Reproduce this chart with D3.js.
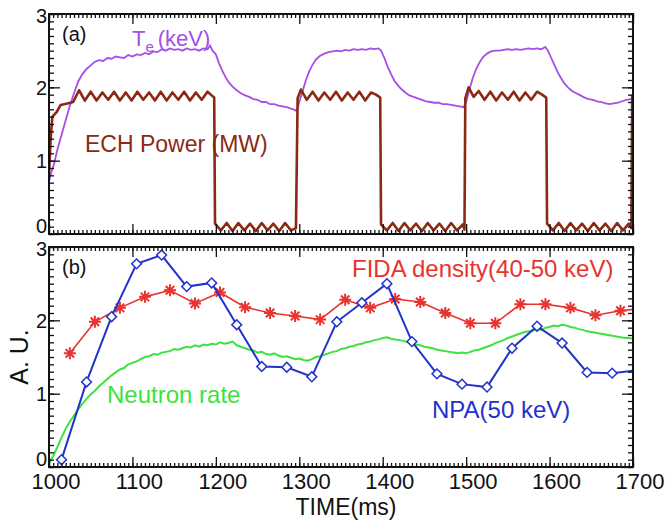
<!DOCTYPE html>
<html>
<head>
<meta charset="utf-8">
<script src="https://cdn.jsdelivr.net/npm/d3@7"></script>
<style>
  body { margin: 0; background: #fff; }
  svg text { font-family: "Liberation Sans", Arial, Helvetica, sans-serif; }
</style>
</head>
<body>
<div id="chart"></div>
<script>

// ---- data ----
var timeTicks = [1000, 1100, 1200, 1300, 1400, 1500, 1600, 1700];
var valueTicks = [0, 1, 2, 3];

// ECH power (MW), [time ms, value]
var echPower = [
  [1000,0.80],[1002,1.30],[1004,1.60],[1009,1.66],[1014,1.76],[1022,1.78],[1029,1.80],[1036,1.96],
  [1043,1.82],[1050,1.94],[1057,1.82],[1064,1.93],[1071,1.83],[1078,1.94],[1085,1.82],[1092,1.93],
  [1099,1.82],[1106,1.94],[1113,1.83],[1120,1.93],[1127,1.82],[1134,1.94],[1141,1.82],[1148,1.93],
  [1155,1.83],[1162,1.94],[1169,1.82],[1176,1.93],[1183,1.83],[1190,1.94],[1196,1.88],[1198,1.86],
  [1199,0.14],[1206,0.05],[1213,0.15],[1220,0.04],[1227,0.15],[1234,0.05],[1241,0.14],[1248,0.04],
  [1255,0.15],[1262,0.05],[1269,0.14],[1276,0.04],[1283,0.15],[1290,0.05],[1296,0.08],
  [1298,1.85],[1302,1.97],[1309,1.83],[1316,1.94],[1323,1.82],[1330,1.93],[1337,1.83],[1344,1.94],
  [1351,1.82],[1358,1.93],[1365,1.83],[1372,1.94],[1379,1.82],[1386,1.93],[1392,1.90],[1397,1.86],
  [1398,0.13],[1405,0.05],[1412,0.15],[1419,0.04],[1426,0.15],[1433,0.05],[1440,0.14],[1447,0.04],
  [1454,0.15],[1461,0.05],[1468,0.14],[1475,0.04],[1482,0.15],[1489,0.05],[1496,0.13],[1498,0.06],
  [1499,1.85],[1503,2.00],[1509,1.87],[1515,1.95],[1522,1.83],[1529,1.94],[1536,1.82],[1543,1.93],
  [1550,1.83],[1557,1.94],[1564,1.82],[1571,1.93],[1578,1.83],[1585,1.94],[1591,1.90],[1596,1.86],
  [1597,0.14],[1604,0.05],[1611,0.15],[1618,0.04],[1625,0.15],[1632,0.05],[1639,0.14],[1646,0.04],
  [1653,0.15],[1660,0.05],[1667,0.14],[1674,0.04],[1681,0.15],[1688,0.05],[1695,0.14],[1698,0.08],
  [1699,1.88],[1700,1.90]
];

// electron temperature (keV)
var teKeV = [
  [1000,0.72],[1003,0.85],[1006,0.95],[1010,1.15],[1015,1.35],[1020,1.55],[1025,1.75],[1030,1.92],
  [1035,2.08],[1040,2.18],[1045,2.25],[1050,2.30],[1055,2.35],[1060,2.37],[1065,2.36],[1070,2.40],
  [1075,2.39],[1080,2.42],[1085,2.41],[1090,2.40],[1095,2.44],[1100,2.42],[1105,2.45],[1110,2.44],
  [1115,2.47],[1120,2.45],[1125,2.49],[1130,2.48],[1135,2.52],[1140,2.50],[1145,2.53],[1150,2.51],
  [1155,2.52],[1160,2.50],[1165,2.53],[1170,2.51],[1175,2.52],[1180,2.50],[1185,2.53],[1190,2.52],
  [1193,2.57],[1196,2.50],[1200,2.45],[1204,2.32],[1208,2.22],[1212,2.13],[1216,2.06],[1220,2.01],
  [1225,1.96],[1230,1.92],[1235,1.89],[1240,1.87],[1245,1.84],[1250,1.83],[1255,1.80],[1260,1.80],
  [1265,1.77],[1270,1.77],[1275,1.75],[1280,1.74],[1285,1.73],[1290,1.71],[1295,1.69],[1297,1.67],
  [1300,1.80],[1304,1.95],[1308,2.10],[1312,2.22],[1316,2.31],[1320,2.38],[1325,2.43],[1330,2.46],
  [1335,2.48],[1340,2.49],[1345,2.50],[1350,2.49],[1355,2.51],[1360,2.50],[1365,2.52],[1370,2.51],
  [1375,2.52],[1380,2.51],[1385,2.53],[1390,2.52],[1395,2.53],[1398,2.50],[1402,2.40],[1406,2.28],
  [1410,2.18],[1414,2.09],[1418,2.03],[1422,1.98],[1427,1.93],[1432,1.89],[1437,1.87],[1442,1.85],
  [1447,1.83],[1452,1.81],[1457,1.80],[1462,1.79],[1467,1.79],[1472,1.77],[1477,1.77],[1482,1.76],
  [1487,1.75],[1492,1.74],[1497,1.73],[1500,1.80],[1504,1.97],[1508,2.13],[1512,2.25],[1516,2.34],
  [1520,2.41],[1525,2.46],[1530,2.49],[1535,2.50],[1540,2.50],[1545,2.51],[1550,2.52],[1555,2.51],
  [1560,2.52],[1565,2.51],[1570,2.52],[1575,2.53],[1580,2.52],[1585,2.53],[1590,2.52],[1595,2.55],
  [1598,2.50],[1602,2.40],[1606,2.30],[1610,2.20],[1614,2.12],[1618,2.05],[1622,2.00],[1627,1.95],
  [1632,1.92],[1637,1.89],[1642,1.86],[1647,1.84],[1652,1.83],[1657,1.81],[1662,1.80],[1667,1.78],
  [1672,1.77],[1677,1.78],[1682,1.79],[1687,1.81],[1692,1.83],[1697,1.84],[1700,1.85]
];

// neutron rate (A.U.)
var neutronRate = [
  [1000,0.05],[1005,0.15],[1010,0.27],[1015,0.40],[1020,0.52],[1025,0.62],[1030,0.70],[1035,0.79],
  [1040,0.86],[1045,0.93],[1050,0.99],[1055,1.04],[1060,1.10],[1065,1.15],[1070,1.20],[1075,1.25],
  [1080,1.29],[1085,1.33],[1090,1.35],[1095,1.40],[1100,1.42],[1105,1.44],[1110,1.47],[1115,1.50],
  [1120,1.51],[1125,1.54],[1130,1.53],[1135,1.56],[1140,1.57],[1145,1.58],[1150,1.61],[1155,1.60],
  [1160,1.62],[1165,1.64],[1170,1.63],[1175,1.66],[1180,1.64],[1185,1.67],[1190,1.66],[1195,1.68],
  [1200,1.67],[1205,1.70],[1210,1.68],[1215,1.69],[1220,1.71],[1225,1.66],[1230,1.64],[1235,1.62],
  [1240,1.60],[1245,1.59],[1250,1.56],[1255,1.57],[1260,1.54],[1265,1.53],[1270,1.55],[1275,1.52],
  [1280,1.50],[1285,1.51],[1290,1.49],[1295,1.47],[1300,1.48],[1305,1.46],[1310,1.45],[1315,1.47],
  [1320,1.50],[1325,1.51],[1330,1.53],[1335,1.55],[1340,1.57],[1345,1.58],[1350,1.61],[1355,1.62],
  [1360,1.64],[1365,1.65],[1370,1.67],[1375,1.68],[1380,1.70],[1385,1.71],[1390,1.73],[1395,1.74],
  [1400,1.76],[1405,1.77],[1410,1.75],[1415,1.74],[1420,1.73],[1425,1.72],[1430,1.70],[1435,1.68],
  [1440,1.67],[1445,1.66],[1450,1.64],[1455,1.63],[1460,1.62],[1465,1.60],[1470,1.59],[1475,1.58],
  [1480,1.57],[1485,1.56],[1490,1.55],[1495,1.56],[1500,1.55],[1505,1.57],[1510,1.59],[1515,1.60],
  [1520,1.62],[1525,1.64],[1530,1.66],[1535,1.69],[1540,1.71],[1545,1.73],[1550,1.76],[1555,1.78],
  [1560,1.80],[1565,1.82],[1570,1.84],[1575,1.85],[1580,1.86],[1585,1.88],[1590,1.87],[1595,1.90],
  [1600,1.91],[1605,1.93],[1610,1.92],[1615,1.94],[1620,1.93],[1625,1.91],[1630,1.90],[1635,1.88],
  [1640,1.87],[1645,1.85],[1650,1.84],[1655,1.83],[1660,1.82],[1665,1.81],[1670,1.80],[1675,1.79],
  [1680,1.78],[1685,1.77],[1690,1.76],[1695,1.76],[1700,1.75]
];

// NPA (50 keV), diamonds
var npaTime   = [1015,1045,1075,1105,1135,1165,1195,1225,1255,1285,1315,1345,1375,1405,1435,1465,1495,1525,1555,1585,1615,1645,1675,1705];
var npaValues = [0.10,1.16,2.05,2.77,2.89,2.46,2.51,1.94,1.37,1.36,1.23,1.98,2.24,2.50,1.71,1.27,1.13,1.09,1.62,1.92,1.69,1.29,1.28,1.32];

// FIDA density (40-50 keV), asterisks
var fidaTime   = [1025,1055,1085,1115,1145,1175,1205,1235,1265,1295,1325,1355,1385,1415,1445,1475,1505,1535,1565,1595,1625,1655,1685,1715];
var fidaValues = [1.55,1.98,2.17,2.32,2.41,2.23,2.38,2.18,2.10,2.06,2.01,2.28,2.17,2.29,2.25,2.10,1.96,1.96,2.22,2.22,2.17,2.07,2.13,2.17];

// ---- layout ----
var width = 668, height = 520;
var left = 49, right = 633;
var panelA = {top: 14, bottom: 234};
var panelB = {top: 247, bottom: 467};

var svg = d3.select("#chart").append("svg")
    .attr("width", width)
    .attr("height", height);

var x = d3.scaleLinear().domain([1000, 1700]).range([left, right]);
var yA = d3.scaleLinear().domain([0, 3]).range([panelA.bottom, panelA.top]);
var yB = d3.scaleLinear().domain([0, 3]).range([panelB.bottom, panelB.top]);

var defs = svg.append("defs");
[["clipA", panelA], ["clipB", panelB]].forEach(function(c) {
  defs.append("clipPath").attr("id", c[0])
    .append("rect")
      .attr("x", left).attr("y", c[1].top)
      .attr("width", right - left).attr("height", c[1].bottom - c[1].top);
});

// IDL style axes: ticks pointing inward on all four sides
function drawAxes(y, withXLabels) {
  var g = svg.append("g");
  var y0 = y.range()[0], y1 = y.range()[1];
  var minorX = d3.range(1000, 1701, 5);
  var minorY = d3.range(0, 31, 1).map(function(d) { return d / 10; });

  var parts = [
    [d3.axisBottom(x).tickValues(minorX).tickSize(-4), "translate(0," + y0 + ")"],
    [d3.axisBottom(x).tickValues(timeTicks).tickSize(-10), "translate(0," + y0 + ")"],
    [d3.axisTop(x).tickValues(minorX).tickSize(-4), "translate(0," + y1 + ")"],
    [d3.axisTop(x).tickValues(timeTicks).tickSize(-10), "translate(0," + y1 + ")"],
    [d3.axisLeft(y).tickValues(minorY).tickSize(-5), "translate(" + left + ",0)"],
    [d3.axisLeft(y).tickValues(valueTicks).tickSize(-11), "translate(" + left + ",0)"],
    [d3.axisRight(y).tickValues(minorY).tickSize(-5), "translate(" + right + ",0)"],
    [d3.axisRight(y).tickValues(valueTicks).tickSize(-11), "translate(" + right + ",0)"]
  ];
  parts.forEach(function(p) {
    var a = g.append("g").attr("transform", p[1])
      .call(p[0].tickFormat("").tickSizeOuter(0));
    a.select(".domain").remove();
    a.selectAll("line").attr("stroke", "#111").attr("stroke-width", 1.3);
    a.selectAll("text").remove();
  });

  // y tick labels (the 0 and 3 labels are nudged apart, as in the original)
  g.selectAll(".ylab").data(valueTicks).enter().append("text")
    .attr("class", "ylab")
    .attr("x", left - 2)
    .attr("y", function(d) { return y(d) + (d === 0 ? -8 : d === 3 ? 2 : 0); })
    .attr("dy", "0.36em")
    .attr("text-anchor", "end")
    .attr("font-size", 20)
    .attr("fill", "#111")
    .text(function(d) { return d; });

  if (withXLabels) {
    g.selectAll(".xlab").data(timeTicks).enter().append("text")
      .attr("class", "xlab")
      .attr("x", function(d) { return x(d) + 7; })
      .attr("y", y0 + 22)
      .attr("text-anchor", "middle")
      .attr("font-size", 22)
      .attr("fill", "#111")
      .text(function(d) { return d; });
  }

  // frame
  g.append("rect")
    .attr("x", left).attr("y", y1)
    .attr("width", right - left).attr("height", y0 - y1)
    .attr("fill", "none")
    .attr("stroke", "#111")
    .attr("stroke-width", 2);
}

// ---- panel (a) ----
var plotA = svg.append("g").attr("clip-path", "url(#clipA)");
var lineA = d3.line()
    .x(function(d) { return x(d[0]); })
    .y(function(d) { return yA(d[1]); });

plotA.append("path").datum(teKeV)
  .attr("d", lineA)
  .attr("fill", "none")
  .attr("stroke", "#a64ee6")
  .attr("stroke-width", 1.8);

plotA.append("path").datum(echPower)
  .attr("d", lineA)
  .attr("fill", "none")
  .attr("stroke", "#8a2a14")
  .attr("stroke-width", 2.6)
  .attr("stroke-linejoin", "round");

drawAxes(yA, false);

svg.append("text").attr("x", 62).attr("y", 41)
  .attr("font-size", 20).attr("fill", "#111").text("(a)");

var te = svg.append("text").attr("x", 132).attr("y", 46)
  .attr("font-size", 22).attr("fill", "#a64ee6");
te.append("tspan").text("T");
te.append("tspan").attr("dy", 6).attr("font-size", 15).text("e");
te.append("tspan").attr("dy", -6).attr("dx", 4).text("(keV)");

svg.append("text").attr("x", 85).attr("y", 152)
  .attr("font-size", 23).attr("fill", "#8a2a14")
  .text("ECH Power (MW)");

// ---- panel (b) ----
var plotB = svg.append("g").attr("clip-path", "url(#clipB)");
var lineB = d3.line()
    .x(function(d) { return x(d[0]); })
    .y(function(d) { return yB(d[1]); });

plotB.append("path").datum(neutronRate)
  .attr("d", lineB)
  .attr("fill", "none")
  .attr("stroke", "#3ee23e")
  .attr("stroke-width", 2);

var fida = fidaTime.map(function(t, i) { return [t, fidaValues[i]]; });
var npa = npaTime.map(function(t, i) { return [t, npaValues[i]]; });

plotB.append("path").datum(fida)
  .attr("d", lineB)
  .attr("fill", "none")
  .attr("stroke", "#e8332e")
  .attr("stroke-width", 1.6);

// asterisk marker: four crossing strokes
function asterisk(r) {
  var p = d3.path();
  for (var k = 0; k < 4; k++) {
    var a = k * Math.PI / 4;
    p.moveTo(-r * Math.cos(a), -r * Math.sin(a));
    p.lineTo(r * Math.cos(a), r * Math.sin(a));
  }
  return p.toString();
}

plotB.selectAll(".fida").data(fida).enter().append("path")
  .attr("class", "fida")
  .attr("transform", function(d) { return "translate(" + x(d[0]) + "," + yB(d[1]) + ")"; })
  .attr("d", asterisk(6))
  .attr("stroke", "#e8332e")
  .attr("stroke-width", 2);

plotB.append("path").datum(npa)
  .attr("d", lineB)
  .attr("fill", "none")
  .attr("stroke", "#2233cc")
  .attr("stroke-width", 2);

plotB.selectAll(".npa").data(npa).enter().append("path")
  .attr("class", "npa")
  .attr("transform", function(d) { return "translate(" + x(d[0]) + "," + yB(d[1]) + ") rotate(45)"; })
  .attr("d", d3.symbol().type(d3.symbolSquare).size(48))
  .attr("fill", "#fff")
  .attr("stroke", "#2233cc")
  .attr("stroke-width", 1.5);

drawAxes(yB, true);

svg.append("text").attr("x", 62).attr("y", 274)
  .attr("font-size", 20).attr("fill", "#111").text("(b)");

svg.append("text").attr("x", 352).attr("y", 277)
  .attr("font-size", 24).attr("fill", "#e8332e")
  .text("FIDA density(40-50 keV)");

svg.append("text").attr("x", 107).attr("y", 403)
  .attr("font-size", 24).attr("fill", "#3ee23e")
  .text("Neutron rate");

svg.append("text").attr("x", 432).attr("y", 418)
  .attr("font-size", 24).attr("fill", "#2233cc")
  .text("NPA(50 keV)");

// axis titles
svg.append("text")
  .attr("x", (left + right) / 2 + 5).attr("y", 515)
  .attr("text-anchor", "middle")
  .attr("font-size", 23).attr("fill", "#111")
  .text("TIME(ms)");

svg.append("text")
  .attr("transform", "translate(19," + (panelB.top + panelB.bottom) / 2 + ") rotate(-90)")
  .attr("dy", "0.35em")
  .attr("text-anchor", "middle")
  .attr("font-size", 25).attr("fill", "#111")
  .text("A. U.");

</script>
</body>
</html>
